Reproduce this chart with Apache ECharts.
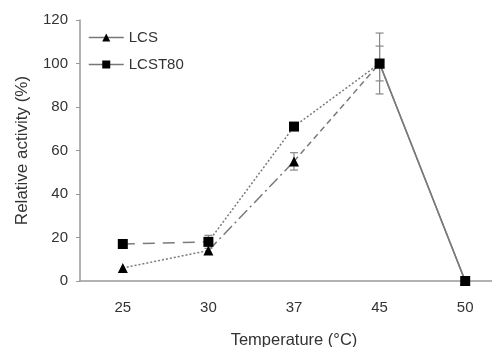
<!DOCTYPE html>
<html>
<head>
<meta charset="utf-8">
<script src="https://cdn.jsdelivr.net/npm/echarts@6/dist/echarts.min.js"></script>
<style>
	html, body { margin: 0; padding: 0; background: #fff; }
	#chart { width: 492px; height: 347px; }
</style>
</head>
<body>
<div id="chart"></div>
<script>
	//数据
	var temps = ['25', '30', '37', '45', '50'];
	var lcs = [6, 14, 55, 100, 0];
	var lcst80 = [17, 18, 71, 100, 0];
	var lcsErr = [0, 0, 4, 8, 0];
	var lcst80Err = [2, 3, 0, 14, 0];
	var yTicks = [0, 20, 40, 60, 80, 100, 120];

	//线型
	var dotted = [2, 2];
	var longDash = [12, 8];
	var dashDot = [12, 4, 2, 4];
	var dashed = [6, 4];
	var lcsDash = [dotted, dashDot, dashed, 'solid'];
	var lcst80Dash = [longDash, dotted, dotted, 'solid'];

	//每一段单独一条线
	var segment = function(values, i, dash) {
		var d = [];
		for(var k = 0; k < values.length; k++) {
			d.push(k == i || k == i + 1 ? values[k] : null);
		}
		return {
			type: 'line',
			data: d,
			symbol: 'none',
			silent: true,
			z: 1,
			lineStyle: {
				color: '#7a7a7a',
				width: 1.5,
				type: dash
			}
		};
	}

	//误差线
	var errBars = function(values, errs) {
		var d = [];
		for(var k = 0; k < values.length; k++) {
			d.push([k, values[k], errs[k]]);
		}
		return {
			type: 'custom',
			silent: true,
			z: 2,
			data: d,
			renderItem: function(params, api) {
				var e = api.value(2);
				if(!e) return null;
				var top = api.coord([api.value(0), api.value(1) + e]);
				var bot = api.coord([api.value(0), api.value(1) - e]);
				var style = { stroke: '#888', lineWidth: 1.2 };
				return {
					type: 'group',
					children: [
						{ type: 'line', shape: { x1: top[0], y1: top[1], x2: bot[0], y2: bot[1] }, style: style },
						{ type: 'line', shape: { x1: top[0] - 4, y1: top[1], x2: top[0] + 4, y2: top[1] }, style: style },
						{ type: 'line', shape: { x1: bot[0] - 4, y1: bot[1], x2: bot[0] + 4, y2: bot[1] }, style: style }
					]
				};
			}
		};
	}

	var series = [];
	for(var i = 0; i < 4; i++) {
		series.push(segment(lcs, i, lcsDash[i]));
		series.push(segment(lcst80, i, lcst80Dash[i]));
	}
	series.push(errBars(lcs, lcsErr));
	series.push(errBars(lcst80, lcst80Err));
	series.push({
		name: 'LCS',
		type: 'line',
		data: lcs,
		symbol: 'triangle',
		symbolSize: 10,
		z: 3,
		itemStyle: { color: '#000' },
		lineStyle: { opacity: 0 }
	});
	series.push({
		name: 'LCST80',
		type: 'line',
		data: lcst80,
		symbol: 'rect',
		symbolSize: 10,
		z: 4,
		itemStyle: { color: '#000' },
		lineStyle: { opacity: 0 }
	});

	var myChart = echarts.init(document.getElementById('chart'));
	var option = {
		animation: false,
		textStyle: { fontFamily: 'Liberation Sans, Arial, sans-serif' },
		legend: {
			data: ['LCS', 'LCST80'],
			orient: 'vertical',
			left: 83,
			top: 25,
			itemWidth: 35,
			itemHeight: 10,
			itemGap: 12,
			textStyle: { fontSize: 15, color: '#333' },
			lineStyle: { color: '#777', width: 1.5, opacity: 1 }
		},
		grid: {
			left: 80,
			top: 20,
			width: 428,
			bottom: 66,
			outerBoundsMode: 'none'
		},
		xAxis: {
			type: 'category',
			data: temps,
			name: 'Temperature (°C)',
			nameLocation: 'middle',
			nameGap: 51,
			nameTextStyle: { fontSize: 16.5, color: '#333' },
			axisLine: { lineStyle: { color: '#999', width: 1.5 } },
			axisTick: { length: 4, lineStyle: { color: '#999' } },
			axisLabel: { fontSize: 15, color: '#333', margin: 19 }
		},
		yAxis: {
			type: 'value',
			min: yTicks[0],
			max: yTicks[yTicks.length - 1],
			interval: 20,
			name: 'Relative activity (%)',
			nameLocation: 'middle',
			nameGap: 49,
			nameTextStyle: { fontSize: 17, color: '#333' },
			axisLine: { show: true, lineStyle: { color: '#999', width: 1.5 } },
			axisTick: { show: true, length: 4, lineStyle: { color: '#999' } },
			axisLabel: { fontSize: 15, color: '#333', margin: 12 },
			splitLine: { show: false }
		},
		series: series
	};
	myChart.setOption(option);
</script>
</body>
</html>
